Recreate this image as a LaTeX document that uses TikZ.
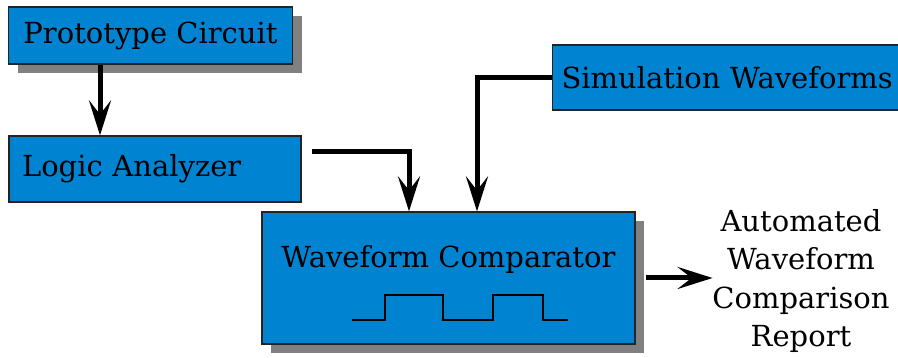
\documentclass[tikz,border=0pt]{standalone}
\usepackage{fontspec}
\setmainfont{DejaVu Serif}
\usetikzlibrary{positioning,arrows.meta,shadows}
\definecolor{boxfill}{RGB}{0,132,209}
\definecolor{boxdraw}{RGB}{35,35,35}
\definecolor{shadowgray}{RGB}{128,128,128}

\begin{document}
\begin{tikzpicture}[
  x=1pt, y=1pt,
  font=\fontsize{29}{38.5}\selectfont,
  block/.style={draw=boxdraw, fill=boxfill, line width=1.2pt, inner sep=0pt},
  shade/.style={drop shadow={shadow xshift=9pt, shadow yshift=-9pt,
                fill=shadowgray, opacity=1}},
  sig/.style={-{Stealth[length=35pt, width=22pt, inset=14pt]}, line width=5pt},
  wave/.style={line width=2.5pt}
]
\useasboundingbox (0,0) rectangle (898,358);
\clip (0,0) rectangle (898,358);

% Source blocks on the left and upper right
\node[block, shade, minimum width=284pt, minimum height=57pt] (proto)
  at (150.5,322.5) {Prototype Circuit};
\node[block, minimum height=66pt, text width=266pt, inner xsep=13pt,
      align=left] (logic) at (155,189) {Logic Analyzer};
\node[block, anchor=west, minimum height=65pt, text width=340pt,
      inner xsep=9pt, align=left] (sim) at (552,280.5) {Simulation Waveforms};

% Comparator with its square wave
\node[block, shade, minimum width=373pt, minimum height=132pt] (comp)
  at (448.5,80) {};
\node[anchor=base] (comptitle) at ([yshift=10pt]comp.center)
  {Waveform Comparator};
\draw[wave] ([xshift=-96.5pt, yshift=-42pt]comp.center)
  -- ++(33,0) -- ++(0,25) -- ++(58,0) -- ++(0,-25)
  -- ++(50,0) -- ++(0,25) -- ++(50,0) -- ++(0,-25) -- ++(25,0);

% Result text
\node[align=center, anchor=base] (report) at (801,11)
  {Automated\\Waveform\\Comparison\\Report};
\coordinate (reportin) at ([xshift=77pt]comp.east);

% Connectors
\draw[sig] ([xshift=-50.5pt]proto.south) -- ([xshift=-50.5pt]proto.south |- logic.north);
\draw[sig] ([xshift=10pt, yshift=17pt]logic.east) -| ([xshift=-39.5pt]comp.north);
\draw[sig] (sim.west) -| ([xshift=28.5pt]comp.north);
\draw[sig] ([xshift=10pt]comp.east) -- (reportin);

\end{tikzpicture}
\end{document}
